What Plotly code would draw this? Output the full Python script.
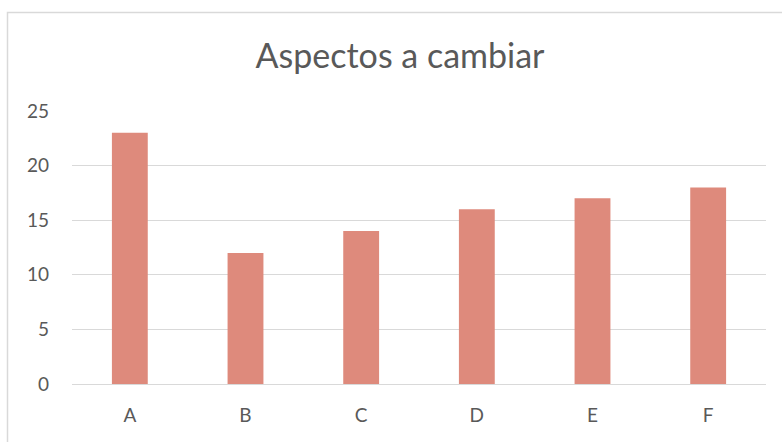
import plotly.graph_objects as go

categories = ["A", "B", "C", "D", "E", "F"]
values = [23, 12, 14, 16, 17, 18]
y_ticks = [0, 5, 10, 15, 20, 25]

L, R, T, B = 72, 16, 111, 58
W, H = 782, 442
pw, ph = W - L - R, H - T - B

fig = go.Figure(go.Bar(x=categories, y=values, marker_color="#DE8A7C",
                       marker_line_width=0, width=0.31))

fig.update_layout(
    width=W, height=H,
    margin=dict(l=L, r=R, t=T, b=B),
    paper_bgcolor="white", plot_bgcolor="white",
    font=dict(family="Lato, Open Sans, sans-serif", color="#595959"),
    title=dict(text="Aspectos a cambiar", x=400 / W, xanchor="center",
               xref="container", y=1 - 56 / H, yanchor="middle", yref="container",
               font=dict(size=34, color="#595959")),
    showlegend=False,
)
fig.update_yaxes(range=[0, 25], tickvals=y_ticks, showgrid=True, gridcolor="#D9D9D9",
                 gridwidth=1, zeroline=False, showline=False, ticks="",
                 tickfont=dict(size=19, color="#595959"), ticklabelstandoff=22)
fig.update_xaxes(showline=True, linecolor="#D9D9D9", linewidth=1, ticks="",
                 tickfont=dict(size=19, color="#595959"), ticklabelstandoff=14)

fig.add_shape(type="rect", xref="paper", yref="paper",
              x0=(7.5 - L) / pw, x1=(W + 20 - L) / pw,
              y0=(H - B - (H + 20)) / ph, y1=(H - B - 12.5) / ph,
              line=dict(color="#D9D9D9", width=1.5), fillcolor="rgba(0,0,0,0)",
              layer="below")

fig.write_html("out.html", config={"displayModeBar": False},
               post_script="document.body.style.margin='0';document.body.style.overflow='hidden';")
